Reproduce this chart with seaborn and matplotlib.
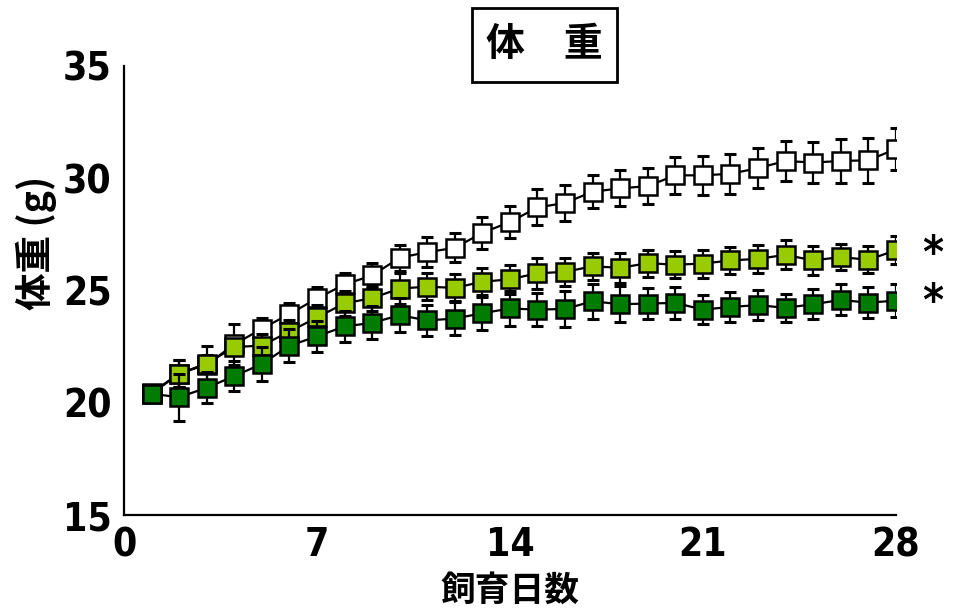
import matplotlib
matplotlib.use("Agg")
import matplotlib.pyplot as plt
import matplotlib.patches as mpatches
import numpy as np
import pandas as pd
import seaborn as sns

# Body weight over the rearing period (mean ± SD), three groups
days = list(range(1, 29))

control_mean = [20.4, 21.3, 21.7, 22.6, 23.3, 23.95, 24.65, 25.27, 25.67, 26.46,
                26.71, 26.9, 27.57, 28.05, 28.7, 28.9, 29.4, 29.55, 29.65, 30.13,
                30.13, 30.2, 30.45, 30.77, 30.7, 30.77, 30.8, 31.3]
control_sd = [0.2, 0.6, 0.85, 0.9, 0.48, 0.5, 0.5, 0.5, 0.57, 0.58,
              0.68, 0.65, 0.7, 0.73, 0.8, 0.79, 0.73, 0.8, 0.8, 0.83,
              0.87, 0.9, 0.9, 0.88, 0.9, 0.96, 1.0, 0.95]

low_mean = [20.45, 21.3, 21.75, 22.48, 22.55, 23.17, 23.8, 24.43, 24.66, 25.09,
            25.17, 25.12, 25.39, 25.5, 25.77, 25.83, 26.08, 26.01, 26.22, 26.15,
            26.2, 26.34, 26.41, 26.59, 26.34, 26.49, 26.37, 26.79]
low_sd = [0.2, 0.6, 0.4, 0.35, 0.5, 0.5, 0.55, 0.55, 0.55, 0.7,
          0.6, 0.6, 0.6, 0.65, 0.68, 0.63, 0.6, 0.67, 0.6, 0.6,
          0.62, 0.62, 0.63, 0.65, 0.65, 0.57, 0.61, 0.62]

high_mean = [20.4, 20.25, 20.67, 21.19, 21.73, 22.54, 22.96, 23.4, 23.56, 23.9,
             23.67, 23.75, 23.99, 24.2, 24.15, 24.18, 24.52, 24.39, 24.42, 24.45,
             24.15, 24.27, 24.35, 24.23, 24.39, 24.58, 24.46, 24.55]
high_sd = [0.2, 1.04, 0.68, 0.68, 0.75, 0.74, 0.7, 0.71, 0.74, 0.76,
           0.69, 0.74, 0.73, 0.79, 0.74, 0.8, 0.79, 0.8, 0.71, 0.71,
           0.65, 0.67, 0.68, 0.62, 0.67, 0.69, 0.7, 0.74]

x_ticks = [0, 7, 14, 21, 28]
y_ticks = [15, 20, 25, 30, 35]
title_text = "体　重"
x_label = "飼育日数"
y_label = "体重 (g)"

groups = [
    ("control", control_mean, control_sd, "#ffffff"),
    ("low", low_mean, low_sd, "#99cc00"),
    ("high", high_mean, high_sd, "#007d00"),
]

sns.set_theme(style="white")
plt.rcParams["font.family"] = ["DejaVu Sans"]
plt.rcParams["font.stretch"] = "condensed"
for key in ("text.color", "axes.labelcolor", "xtick.color", "ytick.color"):
    plt.rcParams[key] = "black"
cjk = ["Noto Sans CJK JP", "DejaVu Sans"]

fig = plt.figure(figsize=(9.54, 6.11), dpi=100)
ax = fig.add_axes([0.13, 0.157, 0.809, 0.735])

z = 2
for name, mean, sd, color in groups:
    df = pd.DataFrame({"day": days, "weight": mean, "sd": sd})
    ax.errorbar(df["day"], df["weight"], yerr=df["sd"], fmt="none",
                ecolor="black", elinewidth=1.6, capsize=4.0, capthick=2.2,
                zorder=z)
    sns.lineplot(data=df, x="day", y="weight", ax=ax, color="black",
                 linewidth=1.6, marker="s", markersize=13.5,
                 markerfacecolor=color, markeredgecolor="black",
                 markeredgewidth=1.8, zorder=z + 1, legend=False)
    z += 2

ax.set_xlim(0, 28)
ax.set_ylim(15, 35)
ax.set_xticks(x_ticks)
ax.set_yticks(y_ticks)
tick_font = dict(fontsize=28, fontweight="bold", fontstretch="condensed",
                 family="DejaVu Sans")
ax.set_xticklabels([str(t) for t in x_ticks], **tick_font)
ax.set_yticklabels([str(t) for t in y_ticks], **tick_font)
ax.set_xlabel(x_label, family=cjk, fontsize=25, fontweight="bold", labelpad=6)
ax.set_ylabel(y_label, family=cjk, fontsize=27, fontweight="bold")
ax.yaxis.set_label_coords(-0.087, 0.606)

for side in ("top", "right"):
    ax.spines[side].set_visible(False)
for side in ("left", "bottom"):
    ax.spines[side].set_color("black")
    ax.spines[side].set_linewidth(1.6)

ax.tick_params(axis="x", direction="in", length=6, width=1.4, colors="black", pad=8)
ax.tick_params(axis="y", direction="out", length=5, width=1.4, colors="black", pad=4)
ax.grid(False)

# significance marks beside the last points
for yv in (26.6, 24.45):
    ax.text(29.35, yv, "*", fontsize=32, fontweight="bold", family="DejaVu Sans",
            ha="center", va="center", clip_on=False)

# boxed title
fig.patches.append(mpatches.Rectangle((0.4948, 0.8658), 0.152, 0.1211,
                                      transform=fig.transFigure, fill=False,
                                      edgecolor="black", linewidth=2.0))
fig.text(0.5708, 0.9264, title_text, family=cjk, fontsize=28,
         fontweight="bold", ha="center", va="center")

fig.savefig("out.png", dpi=100)
